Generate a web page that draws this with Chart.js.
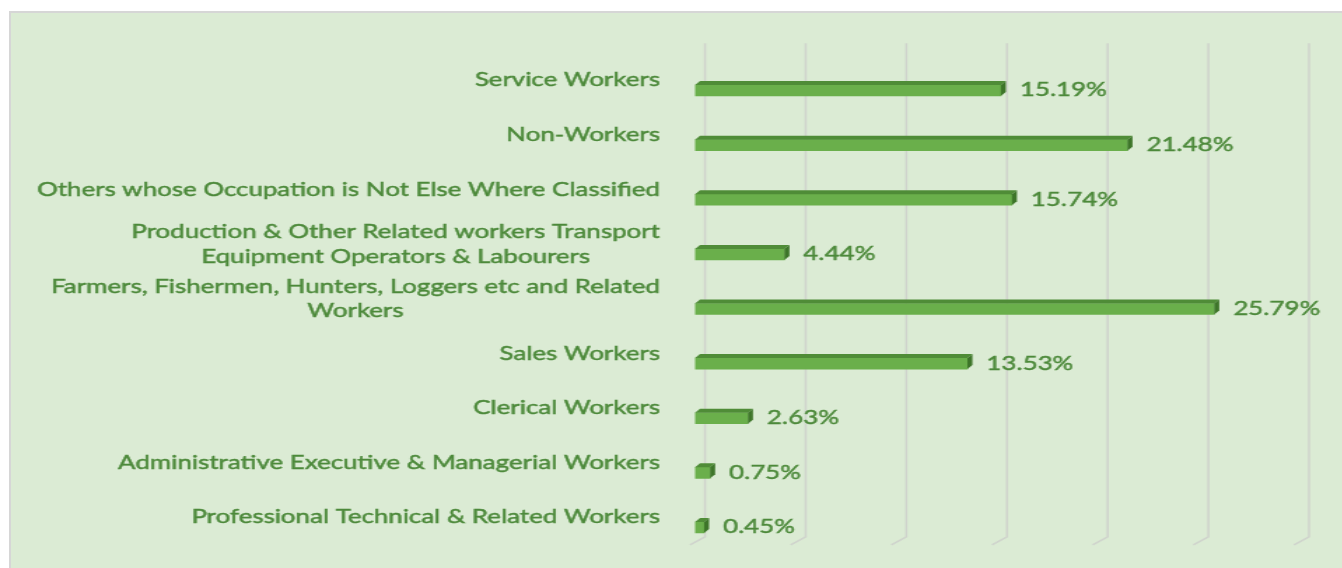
<!DOCTYPE html>
<html><head><meta charset="utf-8">
<script src="https://cdn.jsdelivr.net/npm/chart.js@4.4.0/dist/chart.umd.min.js"></script>
<style>
html,body{margin:0;padding:0;background:#fff;width:1342px;height:568px;overflow:hidden;position:relative;}
#box{position:absolute;left:9px;top:11px;width:1340px;height:570px;background:#DBEBD4;border-left:2px solid #D6D6D6;border-top:2px solid #D6D6D6;}
#wrap{position:absolute;left:0;top:0;width:959px;height:568px;transform:scaleX(1.4);transform-origin:0 0;}
</style></head><body>
<div id="box"></div>
<div id="wrap"><canvas id="c"></canvas></div>
<script>
const categories = [
  ["Service Workers"],
  ["Non-Workers"],
  ["Others whose Occupation is Not Else Where Classified"],
  ["Production & Other Related workers Transport", "Equipment Operators & Labourers"],
  ["Farmers, Fishermen, Hunters, Loggers etc and Related", "Workers"],
  ["Sales Workers"],
  ["Clerical Workers"],
  ["Administrative Executive & Managerial Workers"],
  ["Professional Technical & Related Workers"]
];
const values = [15.19, 21.48, 15.74, 4.44, 25.79, 13.53, 2.63, 0.75, 0.45];
const xTicks = [0, 5, 10, 15, 20, 25, 30];

const S = 1.4;
const TEXT = '#4C893A';
const FONT = '18.5px Lato';

function heavyText(ctx, s, x, y) {
  ctx.lineWidth = 0.45;
  ctx.strokeStyle = TEXT;
  ctx.strokeText(s, x, y);
  ctx.fillText(s, x, y);
}

const gridPlugin = {
  id: 'grid3d',
  beforeDatasetsDraw(chart) {
    const ctx = chart.ctx, xs = chart.scales.x, a = chart.chartArea;
    ctx.save();
    ctx.strokeStyle = '#CFD3CC';
    ctx.lineWidth = 1.5;
    xTicks.forEach(v => {
      const px = xs.getPixelForValue(v);
      ctx.beginPath();
      ctx.moveTo(px + 10 / S, a.top - 20);
      ctx.lineTo(px + 10 / S, a.bottom - 18);
      ctx.lineTo(px - 5 / S, a.bottom - 10);
      ctx.stroke();
    });
    ctx.restore();
  }
};

const barPlugin = {
  id: 'bar3d',
  afterDatasetsDraw(chart) {
    const ctx = chart.ctx;
    const meta = chart.getDatasetMeta(0);
    const dx = 5 / S, dy = 4;
    ctx.save();
    meta.data.forEach((bar, i) => {
      const p = bar.getProps(['x', 'y', 'base', 'height'], true);
      const top = p.y - p.height / 2, bot = p.y + p.height / 2;
      ctx.fillStyle = '#4F8C37';
      ctx.beginPath();
      ctx.moveTo(p.base, top);
      ctx.lineTo(p.base + dx, top - dy);
      ctx.lineTo(p.x + dx, top - dy);
      ctx.lineTo(p.x, top);
      ctx.closePath();
      ctx.fill();
      ctx.fillStyle = '#3D7529';
      ctx.beginPath();
      ctx.moveTo(p.x, top);
      ctx.lineTo(p.x + dx, top - dy);
      ctx.lineTo(p.x + dx, bot - dy);
      ctx.lineTo(p.x, bot);
      ctx.closePath();
      ctx.fill();
      ctx.fillStyle = TEXT;
      ctx.font = FONT;
      ctx.textAlign = 'left';
      ctx.textBaseline = 'middle';
      heavyText(ctx, values[i].toFixed(2) + '%', p.x + 19 / S, p.y);
    });
    ctx.restore();
  }
};

const labelPlugin = {
  id: 'catLabels',
  afterDraw(chart) {
    const ctx = chart.ctx, ys = chart.scales.y, a = chart.chartArea;
    const right = a.left - 35 / S;
    const lineH = 24.5;
    ctx.save();
    ctx.font = FONT;
    ctx.fillStyle = TEXT;
    ctx.textAlign = 'center';
    ctx.textBaseline = 'middle';
    categories.forEach((lines, i) => {
      const cy = ys.getPixelForValue(i) - 10;
      const w = Math.max(...lines.map(l => ctx.measureText(l).width));
      const cx = right - w / 2;
      lines.forEach((l, j) => {
        heavyText(ctx, l, cx, cy + (j - (lines.length - 1) / 2) * lineH);
      });
    });
    ctx.restore();
  }
};

new Chart(document.getElementById('c'), {
  type: 'bar',
  data: {
    labels: categories.map(l => l.join(' ')),
    datasets: [{
      data: values,
      backgroundColor: '#6AAF4B',
      borderWidth: 0,
      barThickness: 11
    }]
  },
  options: {
    indexAxis: 'y',
    responsive: true,
    maintainAspectRatio: false,
    animation: false,
    layout: { padding: { left: 0, right: 959 - 1299 / S, top: 63.2, bottom: 13.2 } },
    plugins: { legend: { display: false }, tooltip: { enabled: false } },
    scales: {
      x: { min: 0, max: 30, display: false, ticks: { stepSize: 5 } },
      y: {
        ticks: { display: false },
        grid: { display: false, drawTicks: false },
        border: { display: false },
        afterFit(s) { s.width = 695 / S; }
      }
    }
  },
  plugins: [gridPlugin, barPlugin, labelPlugin]
});
</script>
</body></html>
